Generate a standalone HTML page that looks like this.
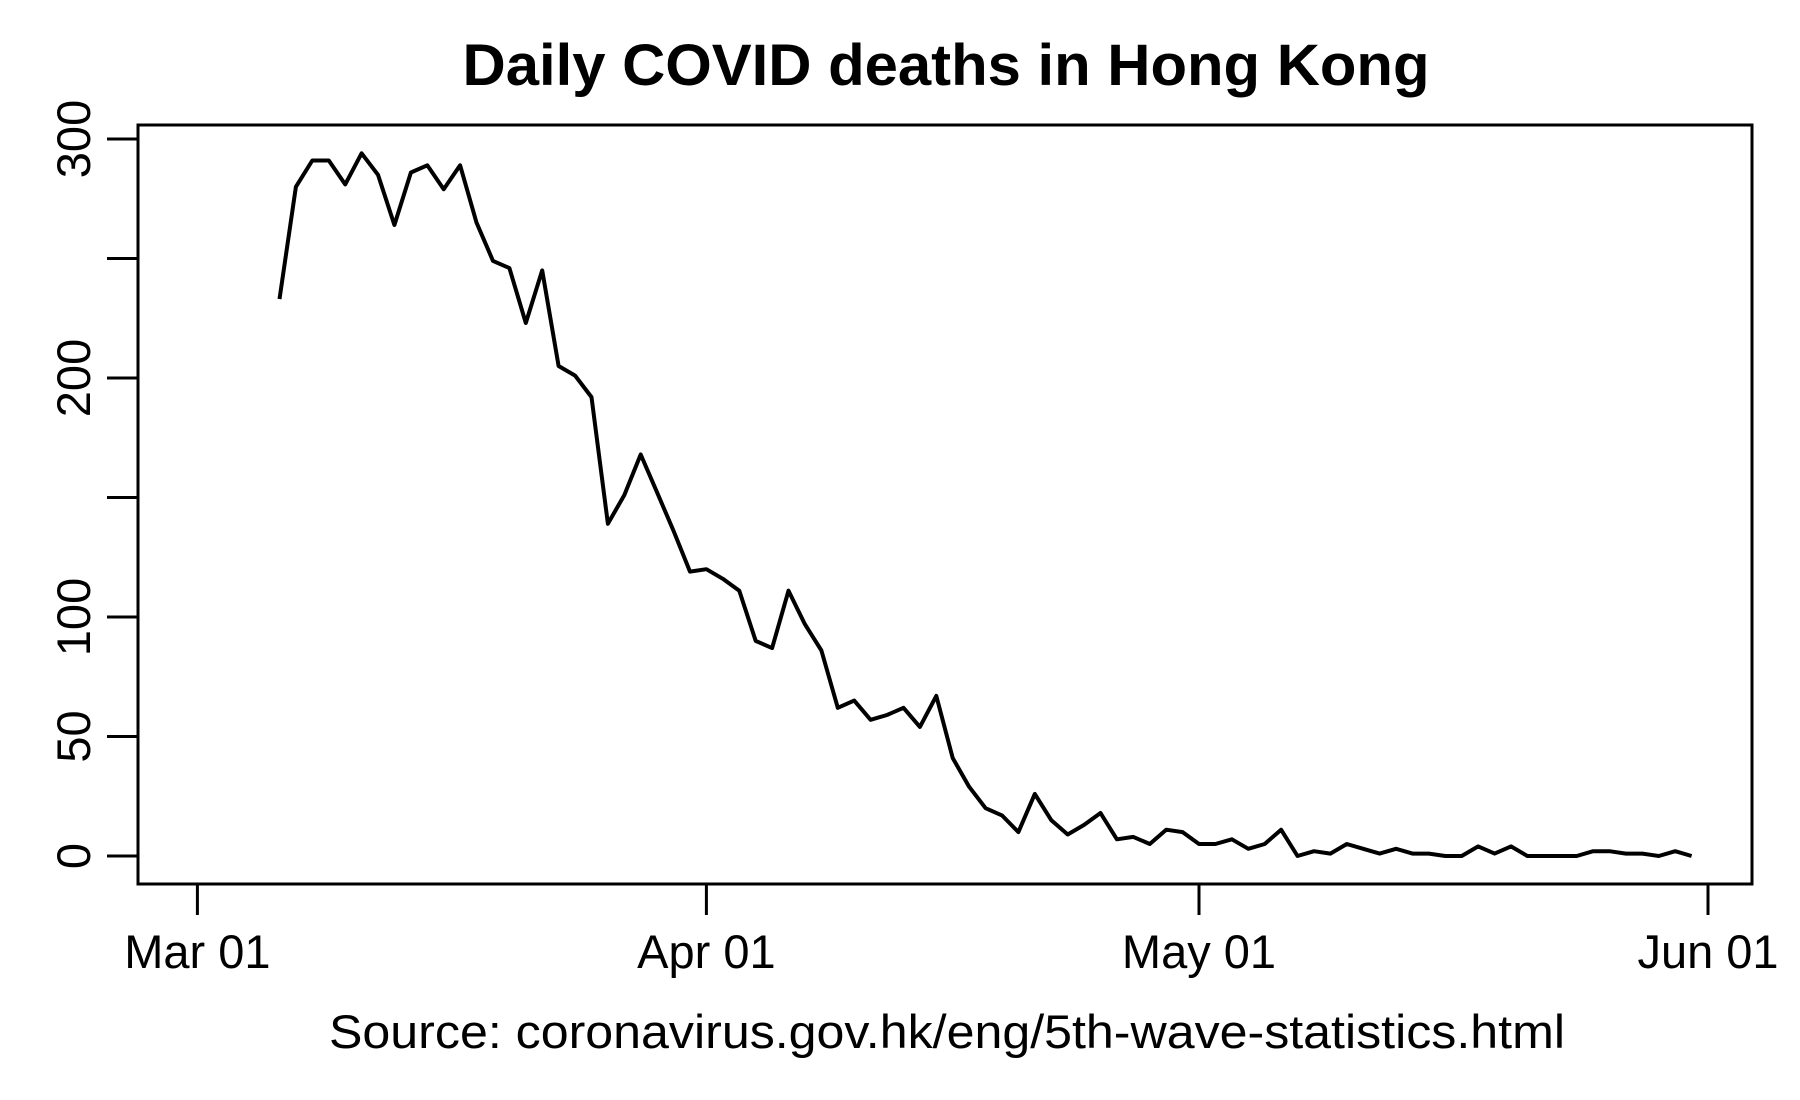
<!DOCTYPE html>
<html><head><meta charset="utf-8"><style>
html,body{margin:0;padding:0;background:#fff}
svg{display:block}
text{font-family:"Liberation Sans",Arial,sans-serif;fill:#000}
</style></head><body>
<svg id="s" width="1800" height="1100" viewBox="0 0 1800 1100" xmlns="http://www.w3.org/2000/svg">
<rect width="1800" height="1100" fill="#fff"/>
<text x="946" y="85" font-size="58" font-weight="bold" text-anchor="middle" textLength="967" lengthAdjust="spacingAndGlyphs">Daily COVID deaths in Hong Kong</text>
<rect x="138" y="125" width="1614" height="759" fill="none" stroke="#000" stroke-width="3"/>
<g stroke="#000" stroke-width="3">
<line x1="107" y1="856" x2="138" y2="856"/>
<line x1="107" y1="736.5" x2="138" y2="736.5"/>
<line x1="107" y1="617" x2="138" y2="617"/>
<line x1="107" y1="497.5" x2="138" y2="497.5"/>
<line x1="107" y1="378" x2="138" y2="378"/>
<line x1="107" y1="258.5" x2="138" y2="258.5"/>
<line x1="107" y1="139" x2="138" y2="139"/>
<line x1="197.4" y1="884" x2="197.4" y2="915"/>
<line x1="706.4" y1="884" x2="706.4" y2="915"/>
<line x1="1199" y1="884" x2="1199" y2="915"/>
<line x1="1708" y1="884" x2="1708" y2="915"/>
</g>
<g font-size="47" text-anchor="middle">
<text transform="translate(90,856) rotate(-90)">0</text>
<text transform="translate(90,736.5) rotate(-90)">50</text>
<text transform="translate(90,617) rotate(-90)">100</text>
<text transform="translate(90,378) rotate(-90)">200</text>
<text transform="translate(90,139) rotate(-90)">300</text>
<text x="197.4" y="968">Mar 01</text>
<text x="706.4" y="968">Apr 01</text>
<text x="1199" y="968">May 01</text>
<text x="1708" y="968">Jun 01</text>
</g>
<text x="947" y="1048" font-size="47" text-anchor="middle" textLength="1236" lengthAdjust="spacingAndGlyphs">Source: coronavirus.gov.hk/eng/5th-wave-statistics.html</text>
<polyline id="p" fill="none" stroke="#000" stroke-width="4" stroke-linejoin="round" points=""/>
</svg>
<script>
var v=[233,280,291,291,281,294,285,264,286,289,279,289,265,249,246,223,245,205,201,192,139,151,168,152,136,119,120,116,111,90,87,111,97,86,62,65,57,59,62,54,67,41,29,20,17,10,26,15,9,13,18,7,8,5,11,10,5,5,7,3,5,11,0,2,1,5,3,1,3,1,1,0,0,4,1,4,0,0,0,0,2,2,1,1,0,2,0];
var pts=[];for(var i=0;i<v.length;i++){var d=5+i*(86/(v.length-1));pts.push((197.4+d*16.42).toFixed(1)+","+(856-v[i]*2.39).toFixed(1));}
document.getElementById("p").setAttribute("points",pts.join(" "));
</script>
</body></html>
